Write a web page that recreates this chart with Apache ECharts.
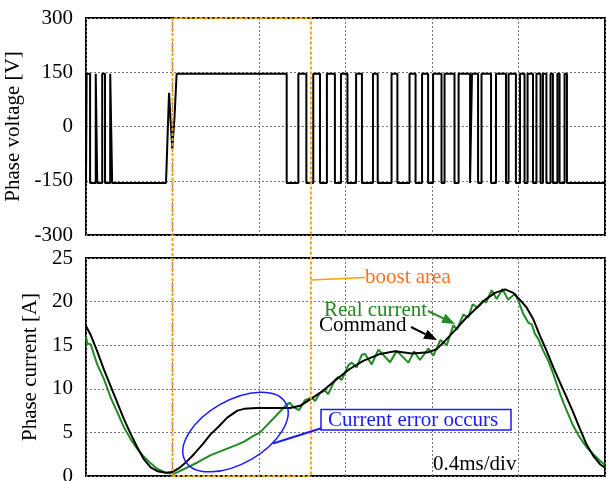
<!DOCTYPE html>
<html>
<head>
<meta charset="utf-8">
<script src="https://cdn.jsdelivr.net/npm/echarts@6/dist/echarts.min.js"></script>
<style>html,body{margin:0;padding:0;background:#fff}#c{width:612px;height:481px}</style>
</head>
<body>
<div id="c"></div>
<script>
// ---- data (time in ms, 0.4 ms/div) ----
const timeTicks = [0, 0.4, 0.8, 1.2, 1.6, 2.0, 2.4];
const voltageTicks = [-300, -150, 0, 150, 300];
const currentTicks = [0, 5, 10, 15, 20, 25];

const voltHigh = 146;
const voltLow = -156;
// PWM pulses [rise, fall] in ms
const pulsesBefore = [[0.003,0.019],[0.045,0.052],[0.075,0.088],[0.112,0.121]];
const voltTransT = [0.370,0.384,0.387,0.399,0.410,0.416,0.419,0.419,0.928,0.928];
const voltTransV = [-156,93,88,-63,33,35,35,146,146,-156];
const pulsesAfter = [[0.982,1.019],[1.051,1.082],[1.114,1.151],[1.179,1.209],[1.249,1.276],[1.327,1.349],[1.413,1.440],[1.496,1.524],[1.554,1.582],[1.605,1.644],[1.658,1.704],[1.723,1.776],[1.785,1.813],[1.829,1.873],[1.896,1.942],[1.954,1.988],[2.007,2.028],[2.042,2.067],[2.083,2.102],[2.113,2.129],[2.148,2.159],[2.180,2.190],[2.213,2.224]];

const cmdTime = [0.000,0.021,0.052,0.083,0.114,0.145,0.176,0.207,0.237,0.268,0.299,0.330,0.369,0.399,0.430,0.468,0.499,0.538,0.577,0.615,0.653,0.700,0.731,0.789,0.866,0.943,0.990,1.044,1.097,1.159,1.221,1.282,1.360,1.429,1.506,1.583,1.622,1.660,1.706,1.753,1.799,1.845,1.891,1.938,1.976,2.007,2.038,2.068,2.099,2.130,2.161,2.192,2.223,2.253,2.284,2.315,2.346,2.377,2.400];
const cmdValue = [17.2,16.2,14.3,12.2,10.3,8.4,6.5,4.8,3.3,1.9,1.0,0.55,0.37,0.45,0.9,1.7,2.5,3.6,4.8,5.7,6.7,7.5,7.7,7.8,7.8,7.8,8.05,8.9,9.8,11.1,12.3,13.2,14.0,14.3,14.05,14.2,14.55,15.5,16.7,18.0,19.1,20.2,21.0,21.4,21.0,20.2,19.3,18.0,16.1,14.35,12.45,10.7,9.0,7.3,5.4,3.6,2.3,1.35,0.95];

const realTime = [0.000,0.006,0.022,0.037,0.052,0.083,0.114,0.145,0.176,0.207,0.237,0.268,0.299,0.330,0.369,0.407,0.453,0.515,0.577,0.638,0.700,0.731,0.774,0.805,0.836,0.882,0.928,0.943,0.959,0.985,1.013,1.044,1.059,1.082,1.105,1.120,1.151,1.166,1.182,1.213,1.229,1.252,1.275,1.290,1.321,1.352,1.406,1.437,1.491,1.517,1.544,1.583,1.606,1.639,1.668,1.699,1.715,1.745,1.768,1.788,1.811,1.834,1.850,1.876,1.899,1.926,1.952,1.984,1.999,2.022,2.045,2.061,2.076,2.092,2.115,2.138,2.161,2.184,2.207,2.230,2.253,2.284,2.315,2.346,2.377,2.400];
const realValue = [16.0,15.2,15.1,13.9,12.8,11.1,9.0,7.3,5.55,4.2,3.1,2.2,1.45,0.8,0.37,0.25,0.8,1.55,2.4,3.0,3.6,3.95,4.6,5.0,5.8,7.0,8.2,8.4,7.9,7.55,8.7,9.0,8.6,9.5,9.8,9.4,11.0,11.35,11.0,12.7,13.0,12.45,13.9,14.0,12.8,14.5,13.05,14.35,13.0,14.3,13.3,14.6,13.8,15.6,15.0,17.3,16.8,18.5,18.2,19.7,19.3,20.1,19.9,21.3,20.3,21.45,20.2,20.9,20.1,18.6,17.6,17.4,16.3,15.7,14.35,13.2,11.7,10.0,8.45,7.1,5.75,4.4,3.3,2.5,1.75,1.25];

const boostStart = 0.4, boostEnd = 1.04;

// ---- build series data ----
function pulsesToPts(pulses) {
  const out = [];
  pulses.forEach(p => { out.push([p[0], voltLow], [p[0], voltHigh], [p[1], voltHigh], [p[1], voltLow]); });
  return out;
}
const voltData = [[timeTicks[0], voltLow]]
  .concat(pulsesToPts(pulsesBefore))
  .concat(voltTransT.map((t, i) => [t, voltTransV[i]]))
  .concat(pulsesToPts(pulsesAfter))
  .concat([[timeTicks[timeTicks.length - 1], voltLow]]);
const cmdData = cmdTime.map((t, i) => [t, cmdValue[i]]);
const realData = realTime.map((t, i) => [t, realValue[i]]);

const FONT = '"Liberation Serif", "Times New Roman", serif';
const chart = echarts.init(document.getElementById('c'), null, { renderer: 'canvas' });

const splitStyle = { show: true, lineStyle: { color: '#777', type: [2, 2], width: 1 } };
function xAxis(gi) {
  return {
    type: 'value', gridIndex: gi,
    min: timeTicks[0], max: timeTicks[timeTicks.length - 1], interval: 0.4,
    axisLine: { show: false }, axisTick: { show: false }, axisLabel: { show: false },
    splitLine: splitStyle
  };
}
function yAxis(gi, ticks, name) {
  return {
    type: 'value', gridIndex: gi,
    min: ticks[0], max: ticks[ticks.length - 1], interval: ticks[1] - ticks[0],
    name: name, nameLocation: 'middle', nameGap: 43,
    nameTextStyle: { fontFamily: FONT, fontSize: 21, color: '#000' },
    axisLine: { show: false }, axisTick: { show: false },
    axisLabel: { fontFamily: FONT, fontSize: 21, color: '#000', margin: 13 },
    splitLine: splitStyle
  };
}

chart.setOption({
  animation: false,
  backgroundColor: '#fff',
  grid: [
    { left: 86, top: 18, width: 519, height: 217, outerBoundsMode: 'none', containLabel: false, show: true, borderColor: '#000', borderWidth: 2, backgroundColor: 'transparent' },
    { left: 86, top: 258, width: 519, height: 218, outerBoundsMode: 'none', containLabel: false, show: true, borderColor: '#000', borderWidth: 2, backgroundColor: 'transparent' }
  ],
  xAxis: [xAxis(0), xAxis(1)],
  yAxis: [yAxis(0, voltageTicks, 'Phase voltage [V]'), yAxis(1, currentTicks, 'Phase current [A]')],
  series: [
    { type: 'line', xAxisIndex: 0, yAxisIndex: 0, data: voltData, showSymbol: false, lineStyle: { color: '#000', width: 2 }, z: 3 },
    { type: 'line', xAxisIndex: 1, yAxisIndex: 1, data: realData, showSymbol: false, lineStyle: { color: '#218a21', width: 2 }, z: 3 },
    { type: 'line', xAxisIndex: 1, yAxisIndex: 1, data: cmdData, showSymbol: false, lineStyle: { color: '#000', width: 2 }, z: 4 }
  ]
});

// ---- annotations ----
const tl = chart.convertToPixel({ gridIndex: 0 }, [boostStart, voltageTicks[voltageTicks.length - 1]]);
const br = chart.convertToPixel({ gridIndex: 1 }, [boostEnd, currentTicks[0]]);

function arrow(x1, y1, x2, y2, color) {
  const ang = Math.atan2(y2 - y1, x2 - x1), L = 13, W = 5;
  const bx = x2 - L * Math.cos(ang), by = y2 - L * Math.sin(ang);
  return [
    { type: 'line', shape: { x1: x1, y1: y1, x2: bx, y2: by }, style: { stroke: color, lineWidth: 2 }, z: 20 },
    { type: 'polygon', shape: { points: [[x2, y2], [bx + W * Math.sin(ang), by - W * Math.cos(ang)], [bx - W * Math.sin(ang), by + W * Math.cos(ang)]] }, style: { fill: color }, z: 20 }
  ];
}
function txt(s, x, y, color) {
  return { type: 'text', style: { text: s, x: x, y: y, font: '21px ' + FONT, fill: color, align: 'left', verticalAlign: 'middle' }, z: 21 };
}

const g = [
  { type: 'polyline', shape: { points: [[tl[0], br[1]], [tl[0], tl[1]], [br[0], tl[1]], [br[0], br[1]], [tl[0], br[1]]] },
    style: { stroke: '#FFA200', lineWidth: 2, lineDash: [3, 2], fill: null }, z: 15 },
  { type: 'line', shape: { x1: br[0], y1: 280, x2: 365, y2: 277.5 }, style: { stroke: '#FFA200', lineWidth: 1.5 }, z: 20 },
  txt('boost area', 365, 277, '#FF7020'),
  txt('Real current', 324, 310, '#218a21'),
  txt('Command', 319, 325, '#000'),
  { type: 'ellipse', x: 235.5, y: 432, rotation: Math.PI / 6, shape: { cx: 0, cy: 0, rx: 58, ry: 31.5 }, style: { stroke: '#1a1aff', lineWidth: 1.5, fill: null }, z: 20 },
  { type: 'line', shape: { x1: 273, y1: 443.5, x2: 322, y2: 428 }, style: { stroke: '#1a1aff', lineWidth: 2 }, z: 20 },
  { type: 'rect', shape: { x: 321, y: 409.5, width: 190, height: 20.5 }, style: { stroke: '#1a1aff', lineWidth: 1.5, fill: '#fff' }, z: 20 },
  txt('Current error occurs', 328, 420, '#1a1aff'),
  txt('0.4ms/div', 433, 464, '#000')
].concat(arrow(428, 311, 455, 324, '#218a21')).concat(arrow(411, 327, 437, 340, '#000'));

chart.setOption({ graphic: g });
</script>
</body>
</html>
